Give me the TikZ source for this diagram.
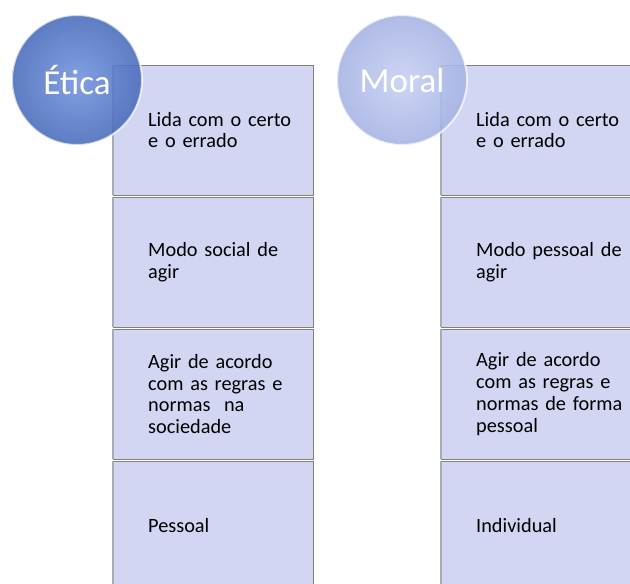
\documentclass[tikz,border=0pt]{standalone}
\usepackage{fontspec}
\setmainfont{Carlito}
\usetikzlibrary{positioning}

\definecolor{boxfill}{RGB}{211,214,243}
\definecolor{boxline}{RGB}{128,128,128}
\definecolor{boxedge}{RGB}{170,170,178}
\definecolor{eticain}{RGB}{112,146,222}
\definecolor{eticaout}{RGB}{72,106,186}
\definecolor{moralin}{RGB}{198,207,242}
\definecolor{moralout}{RGB}{164,178,228}

\tikzset{
    cell/.style = {draw=boxline, fill=boxfill, line width=0.8pt,
        minimum width=200pt, minimum height=130pt, inner sep=0pt, outer sep=0pt},
    celltext/.style = {inner sep=0pt, text width=160pt, align=left,
        font=\fontsize{20.3}{21.8}\selectfont},
    leftedge/.style = {draw=boxedge, line width=2.5pt},
    bubble/.style = {circle, minimum size=130pt, inner sep=0pt,
        draw=white, line width=2pt, draw opacity=0.7,
        fill opacity=0.88, text opacity=1, text=white,
        font=\fontsize{35}{40}\selectfont}
}

\begin{document}
\begin{tikzpicture}[x=1pt, y=1pt]

    \useasboundingbox (0,0) rectangle (630,-584);

    % left column
    \node[cell, anchor=north west] (e1) at (113,-65) {};
    \node[cell, below=2pt of e1] (e2) {};
    \node[cell, below=2pt of e2] (e3) {};
    \node[cell, below=2pt of e3] (e4) {};

    % right column
    \node[cell, anchor=north west] (m1) at (441,-65) {};
    \node[cell, below=2pt of m1] (m2) {};
    \node[cell, below=2pt of m2] (m3) {};
    \node[cell, below=2pt of m3] (m4) {};

    % shaded left edges
    \foreach \c in {e1,e2,e3,e4,m1,m2,m3,m4}
        \draw[leftedge] (\c.north west) -- (\c.south west);

    % texts
    \node[celltext, right=35pt of e1.west] (e1t) {Lida com o certo\\e o errado};
    \node[celltext, right=35pt of e2.west] (e2t) {Modo social de\\agir};
    \node[celltext, right=35pt of e3.west] (e3t) {Agir de acordo\\com as regras e\\normas\ \ na\\sociedade};
    \node[celltext, right=35pt of e4.west] (e4t) {Pessoal};

    \node[celltext, right=35pt of m1.west] (m1t) {Lida com o certo\\e o errado};
    \node[celltext, right=35pt of m2.west] (m2t) {Modo pessoal de\\agir};
    \node[celltext, right=35pt of m3.west] (m3t) {Agir de acordo\\com as regras e\\normas de forma\\pessoal};
    \node[celltext, right=35pt of m4.west] (m4t) {Individual};

    % circles on top
    \node[bubble, inner color=eticain, outer color=eticaout] (etica) at (77,-80) {Ética};
    \node[bubble, inner color=moralin, outer color=moralout] (moral) at (402,-80) {Moral};

\end{tikzpicture}
\end{document}
